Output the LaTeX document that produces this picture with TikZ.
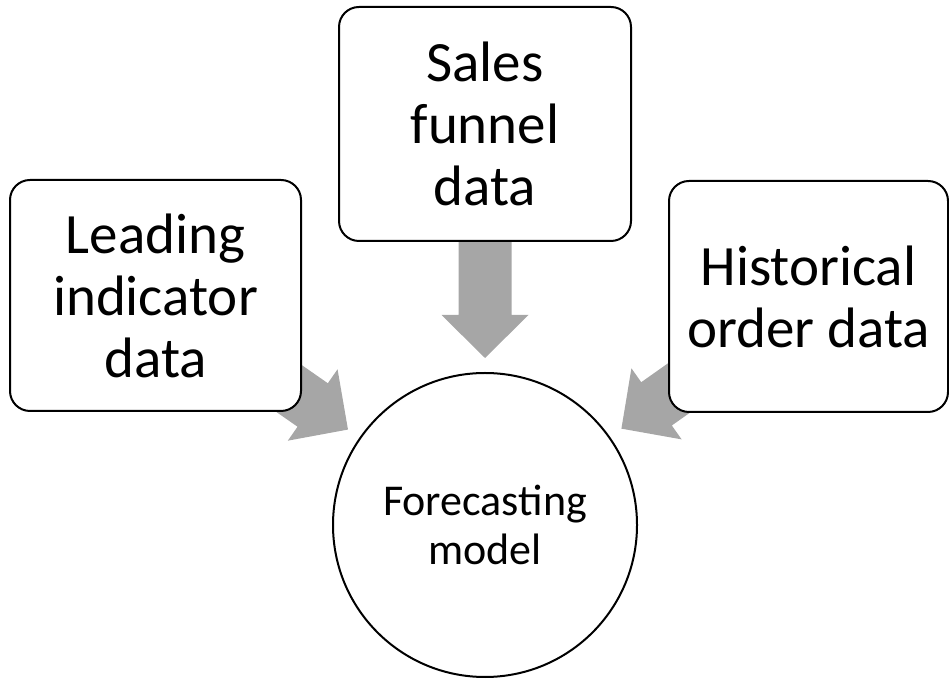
\documentclass[tikz,border=0pt]{standalone}
\usepackage{fontspec}
\setmainfont{Carlito}
\usetikzlibrary{calc,backgrounds}
\definecolor{arrowgray}{RGB}{166,166,166}
\tikzset{
  srcbox/.style={draw=black, line width=2pt, fill=white, rounded corners=20pt,
    align=center, inner sep=0pt, font=\fontsize{57}{62}\selectfont},
  hubcircle/.style={draw=black, line width=2pt, fill=white, circle, inner sep=0pt,
    minimum size=304pt, align=center, font=\fontsize{44}{48.5}\selectfont},
  feed/.style={fill=arrowgray}
}
% Block arrow from box #1 towards the hub #2, tip just outside the hub
\newcommand\feedarrow[2]{%
  \fill[feed]
    ($(#2.center)!297pt!(#1.center)!26.5pt!90:(#1.center)$) --
    ($(#2.center)!210pt!(#1.center)!26.5pt!90:(#1.center)$) --
    ($(#2.center)!210pt!(#1.center)!43.5pt!90:(#1.center)$) --
    ($(#2.center)!167pt!(#1.center)$) --
    ($(#2.center)!210pt!(#1.center)!43.5pt!-90:(#1.center)$) --
    ($(#2.center)!210pt!(#1.center)!26.5pt!-90:(#1.center)$) --
    ($(#2.center)!297pt!(#1.center)!26.5pt!-90:(#1.center)$) -- cycle;
}
\begin{document}
\begin{tikzpicture}[x=1pt,y=1pt]
  \useasboundingbox (0,0) rectangle (949,679);
  \node[hubcircle] (fc) at (485,154) {Forecasting\\model};
  \node[srcbox, minimum width=291pt, minimum height=231pt] (lead) at (155.5,383.5)
    {Leading\\indicator\\data};
  \node[srcbox, minimum width=292pt, minimum height=234pt] (sales) at (485,555)
    {Sales\\funnel\\data};
  \node[srcbox, minimum width=279pt, minimum height=231pt] (hist) at (808.5,382.5)
    {Historical\\order data};
  \begin{scope}[on background layer]
    \feedarrow{lead}{fc}
    \feedarrow{sales}{fc}
    \feedarrow{hist}{fc}
  \end{scope}
\end{tikzpicture}
\end{document}
